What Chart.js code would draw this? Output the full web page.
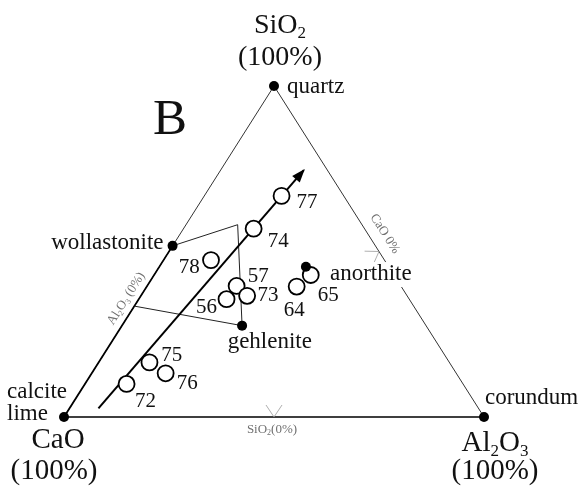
<!DOCTYPE html>
<html><head><meta charset="utf-8">
<style>html,body{margin:0;padding:0;background:#fff;}canvas{display:block;}</style>
<script src="https://cdn.jsdelivr.net/npm/chart.js@4.4.1/dist/chart.umd.min.js"></script>
</head><body>
<canvas id="c" width="580" height="486"></canvas>
<script>
// ---- Data (ternary compositions, %): SiO2, Al2O3 (CaO = remainder) ----
const sampleIds   = ['77','74','78','57','73','56','64','65','75','76','72'];
const sampleSiO2  = [66.8, 56.9, 47.4, 39.6, 36.6, 35.6, 39.4, 42.9, 16.5, 13.2, 10.0];
const sampleAl2O3 = [18.4, 16.7, 11.3, 21.3, 25.3, 20.9, 35.7, 37.3, 12.1, 17.6,  9.9];
const sampleCaO   = [14.8, 26.4, 41.3, 39.1, 38.1, 43.5, 24.9, 19.8, 71.4, 69.2, 80.1];

const mineralNames = ['quartz','wollastonite','gehlenite','anorthite','calcite\nlime','corundum'];
const mineralSiO2  = [100, 51.7, 27.6, 45.4,   0,   0];
const mineralAl2O3 = [  0,  0.0, 28.6, 34.9,   0, 100];
const mineralCaO   = [  0, 48.3, 43.8, 19.7, 100,   0];

// field outline: wollastonite -> corner -> gehlenite -> CaO-SiO2 join
const fieldSiO2  = [51.7, 58.1, 27.6, 33.5];
const fieldAl2O3 = [ 0.0, 12.3, 28.6,  0.0];

// trend arrow: start, end
const trendSiO2  = [2.6, 74.6];
const trendAl2O3 = [6.9, 19.8];

// triangle vertices order: CaO, Al2O3, SiO2, CaO
const vertexSiO2  = [0, 0, 100, 0];
const vertexAl2O3 = [0, 100, 0, 0];

// ---- ternary -> cartesian ----
function tern(si, al){ return {x: al + si*0.5, y: si}; }
function zipT(si, al){ return si.map((s,i)=>tern(s, al[i])); }

const SERIF = '"Liberation Serif","DejaVu Serif",serif';

function rich(ctx, parts, x, y, size, align){
  let w = 0;
  parts.forEach(([t,s])=>{ ctx.font = (s?Math.round(size*0.6):size)+'px '+SERIF; w += ctx.measureText(t).width; });
  let cx = align==='center' ? x-w/2 : align==='right' ? x-w : x;
  ctx.textAlign='left'; ctx.textBaseline='alphabetic';
  parts.forEach(([t,s])=>{
    ctx.font = (s?Math.round(size*0.6):size)+'px '+SERIF;
    ctx.fillText(t, cx, y + (s?size*0.18:0));
    cx += ctx.measureText(t).width;
  });
  return w;
}

// label offsets (pixels) — styling only
const sampleLabelOff = {'77':[25.5,12.3],'74':[24.6,18.6],'78':[-21.7,12.7],'57':[21.6,-4.3],'73':[21,5],
  '56':[-20,14.3],'64':[-2.4,29],'65':[17.6,26],'75':[22.4,-1.6],'76':[21.6,15.7],'72':[19,23.3]};
const mineralLabelOff = {
  'quartz':[13,7.3,'left'], 'wollastonite':[-9,2.8,'right'], 'gehlenite':[27.7,22.6,'center'],
  'anorthite':[24,13.3,'left'], 'calcite\nlime':[-57,-18.7,'left'], 'corundum':[1,-13.2,'left']};

const overlay = {
  id:'overlay',
  afterDatasetsDraw(chart){
    const ctx = chart.ctx;
    const P = (si,al)=>{ const p = tern(si,al); return {x: chart.scales.x.getPixelForValue(p.x), y: chart.scales.y.getPixelForValue(p.y)}; };
    ctx.save();
    // arrowhead
    const a0 = P(trendSiO2[0], trendAl2O3[0]), a1 = P(trendSiO2[1], trendAl2O3[1]);
    const ang = Math.atan2(a1.y-a0.y, a1.x-a0.x);
    ctx.fillStyle='#000';
    ctx.beginPath();
    ctx.moveTo(a1.x+Math.cos(ang)*1.5, a1.y+Math.sin(ang)*1.5);
    ctx.lineTo(a1.x-Math.cos(ang)*12+Math.sin(ang)*5, a1.y-Math.sin(ang)*12-Math.cos(ang)*5);
    ctx.lineTo(a1.x-Math.cos(ang)*12-Math.sin(ang)*5, a1.y-Math.sin(ang)*12+Math.cos(ang)*5);
    ctx.closePath(); ctx.fill();

    const vC = P(0,0), vA = P(0,100), vS = P(100,0);
    // edge ticks at 50%
    ctx.strokeStyle='#9a9a9a'; ctx.lineWidth=0.8;
    const vtick = (p, t, n) => {
      ctx.beginPath();
      ctx.moveTo(p.x + 12*n[0] + 8*t[0], p.y + 12*n[1] + 8*t[1]);
      ctx.lineTo(p.x, p.y);
      ctx.lineTo(p.x + 12*n[0] - 8*t[0], p.y + 12*n[1] - 8*t[1]);
      ctx.stroke();
    };
    vtick(P(0,50), [1,0], [0,-1]);
    let dx = vA.x-vS.x, dy = vA.y-vS.y, L = Math.hypot(dx,dy);
    const tR = [dx/L, dy/L];
    const nIn = [-dy/L, dx/L];       // inward normal (towards left/down)
    vtick(P(50,50), tR, nIn);

    // small axis labels
    ctx.fillStyle='#707070';
    const bm = P(0,50);
    rich(ctx, [['SiO',0],['2',1],['(0%)',0]], bm.x-2, bm.y+16, 13, 'center');
    // left edge label
    const le = P(34,0);
    dx = vS.x-vC.x; dy = vS.y-vC.y; L = Math.hypot(dx,dy);
    const angL = Math.atan2(dy,dx);
    ctx.save();
    ctx.translate(le.x + (dy/L)*11.5, le.y - (dx/L)*11.5);
    ctx.rotate(angL);
    rich(ctx, [['Al',0],['2',1],['O',0],['3',1],[' (0%)',0]], 0, 4, 13, 'center');
    ctx.restore();
    // right edge label
    const re = P(53,47);
    const angR = Math.atan2(vA.y-vS.y, vA.x-vS.x);
    ctx.save();
    ctx.translate(re.x - nIn[0]*15, re.y - nIn[1]*15);
    ctx.rotate(angR);
    rich(ctx, [['CaO 0%',0]], 0, 4, 13, 'center');
    ctx.restore();

    // sample labels
    ctx.fillStyle='#111';
    sampleIds.forEach((id,i)=>{
      const p = P(sampleSiO2[i], sampleAl2O3[i]);
      const o = sampleLabelOff[id];
      rich(ctx, [[id,0]], p.x+o[0], p.y+o[1], 21, 'center');
    });
    // mineral labels
    mineralNames.forEach((nm,i)=>{
      const p = P(mineralSiO2[i], mineralAl2O3[i]);
      const o = mineralLabelOff[nm];
      const lines = nm.split('\n');
      lines.forEach((ln,k)=>{
        const x = p.x+o[0], y = p.y+o[1]+k*21.7;
        if (nm==='anorthite'){
          ctx.font='23px '+SERIF;
          const w = ctx.measureText(ln).width;
          ctx.fillStyle='#fff'; ctx.fillRect(x-2, y-18, w+4, 25);
          ctx.fillStyle='#111';
        }
        rich(ctx, [[ln,0]], x, y, 23, o[2]);
      });
    });

    // vertex titles
    ctx.fillStyle='#111';
    rich(ctx, [['SiO',0],['2',1]], vS.x+6, vS.y-52.7, 28, 'center');
    rich(ctx, [['(100%)',0]], vS.x+6, vS.y-21, 28, 'center');
    rich(ctx, [['CaO',0]], vC.x-6, vC.y+31, 29, 'center');
    rich(ctx, [['(100%)',0]], vC.x-10, vC.y+61.5, 29, 'center');
    rich(ctx, [['Al',0],['2',1],['O',0],['3',1]], vA.x+11, vA.y+33.5, 29, 'center');
    rich(ctx, [['(100%)',0]], vA.x+11, vA.y+61.5, 29, 'center');
    // panel letter
    rich(ctx, [['B',0]], 153, 134, 51, 'left');
    ctx.restore();
  }
};

const xMin = -64/4.2, xMax = (580-64)/4.2;
const yMax = 417/3.31, yMin = -(486-417)/3.31;

new Chart(document.getElementById('c').getContext('2d'), {
  type:'scatter',
  data:{datasets:[
    {label:'minerals', data: zipT(mineralSiO2, mineralAl2O3), pointRadius:5, pointHoverRadius:5,
     backgroundColor:'#000', borderColor:'#000', borderWidth:0, order:0},
    {label:'samples', data: zipT(sampleSiO2, sampleAl2O3), pointRadius:8, pointHoverRadius:8,
     backgroundColor:'#fff', borderColor:'#000', borderWidth:1.8, order:1},
    {label:'trend', data: zipT(trendSiO2, trendAl2O3), showLine:true, borderColor:'#000', borderWidth:2,
     pointRadius:0, order:2},
    {label:'field', data: zipT(fieldSiO2, fieldAl2O3), showLine:true, borderColor:'#222', borderWidth:1,
     pointRadius:0, order:3},
    {label:'join', data: [tern(vertexSiO2[0],vertexAl2O3[0]), tern(mineralSiO2[1],mineralAl2O3[1])], showLine:true,
     borderColor:'#000', borderWidth:1.8, pointRadius:0, order:4},
    {label:'base', data: [tern(vertexSiO2[0],vertexAl2O3[0]), tern(vertexSiO2[1],vertexAl2O3[1])], showLine:true,
     borderColor:'#222', borderWidth:1.6, pointRadius:0, order:5},
    {label:'triangle', data: zipT(vertexSiO2, vertexAl2O3), showLine:true, borderColor:'#333', borderWidth:1,
     pointRadius:0, order:6}
  ]},
  options:{
    responsive:false, animation:false, devicePixelRatio:1, events:[],
    layout:{padding:0, autoPadding:false},
    plugins:{legend:{display:false}, tooltip:{enabled:false}},
    scales:{
      x:{type:'linear', display:false, min:xMin, max:xMax},
      y:{type:'linear', display:false, min:yMin, max:yMax}
    }
  },
  plugins:[overlay]
});
</script>
</body></html>
